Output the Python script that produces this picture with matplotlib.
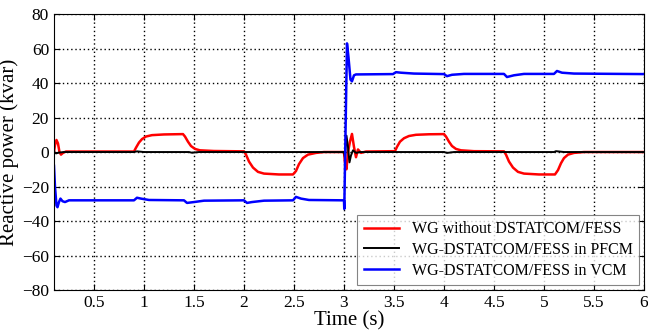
import matplotlib.pyplot as plt

plt.rcParams['font.family'] = ['Liberation Serif', 'DejaVu Serif']

# WG without DSTATCOM/FESS
t_red = [0.10, 0.11, 0.125, 0.14, 0.155, 0.17, 0.19, 0.22, 0.50, 0.90,
         0.92, 0.95, 0.98, 1.02, 1.08, 1.20, 1.39, 1.41, 1.44, 1.47,
         1.51, 1.56, 1.70, 2.00, 2.02, 2.05, 2.09, 2.14, 2.20, 2.35,
         2.49, 2.52, 2.55, 2.59, 2.64, 2.72, 2.80, 3.00, 3.01, 3.025,
         3.04, 3.06, 3.08, 3.10, 3.12, 3.14, 3.17, 3.22, 3.51, 3.53,
         3.56, 3.60, 3.65, 3.72, 3.85, 4.00, 4.02, 4.05, 4.08, 4.12,
         4.17, 4.30, 4.60, 4.62, 4.65, 4.69, 4.74, 4.80, 4.95, 5.11,
         5.14, 5.17, 5.20, 5.24, 5.30, 5.40, 6.00]
q_red = [0.0, 4.0, 7.0, 5.0, 0.0, -1.5, -0.5, 0.3, 0.3, 0.3,
         2.5, 5.5, 7.5, 9.0, 9.8, 10.2, 10.4, 9.0, 6.0, 3.5,
         1.8, 1.0, 0.6, 0.4, -1.5, -5.5, -9.0, -11.5, -12.5, -13.0,
         -13.0, -11.0, -7.0, -3.5, -1.5, -0.5, 0.0, 0.0, -6.0, -10.0,
         0.0, 6.0, 10.5, 3.0, -3.0, 1.5, -0.5, 0.3, 0.5, 3.0,
         6.0, 8.0, 9.3, 10.0, 10.3, 10.4, 9.0, 6.0, 3.5, 1.8,
         1.0, 0.5, 0.4, -1.5, -5.5, -9.0, -11.5, -12.5, -13.0, -13.0,
         -10.5, -6.5, -3.5, -1.5, -0.5, 0.0, 0.0]

# WG-DSTATCOM/FESS in PFCM
t_blk = [0.10, 0.12, 0.15, 0.20, 0.90, 0.93, 1.00, 1.45, 1.48, 1.55,
         3.00, 3.01, 3.025, 3.04, 3.055, 3.07, 3.09, 3.12, 3.16, 4.00,
         4.03, 4.10, 5.10, 5.12, 5.20, 6.00]
q_blk = [0.0, -0.8, -0.3, 0.0, 0.0, 0.4, 0.0, 0.0, -0.4, 0.0,
         0.0, -3.0, 9.5, 3.0, -6.0, -2.0, 1.0, -0.5, 0.0, 0.0,
         -0.5, 0.0, 0.0, 0.5, 0.0, 0.0]

# WG-DSTATCOM/FESS in VCM
t_blu = [0.100, 0.110, 0.125, 0.135, 0.150, 0.165, 0.185, 0.21, 0.25, 0.90,
         0.93, 0.97, 1.05, 1.40, 1.43, 1.50, 1.60, 2.00, 2.03, 2.08,
         2.20, 2.49, 2.52, 2.57, 2.65, 3.00, 3.003, 3.015, 3.03, 3.045,
         3.065, 3.08, 3.10, 3.12, 3.49, 3.52, 3.57, 3.70, 4.00, 4.03,
         4.08, 4.20, 4.60, 4.63, 4.70, 4.80, 5.10, 5.13, 5.18, 5.30,
         6.00]
q_blu = [-8, -20, -31, -32, -29, -27, -28.5, -29, -28, -28,
         -26.5, -27, -27.8, -28, -29.5, -29, -28.2, -28, -29.5, -29,
         -28.2, -28, -26, -27, -27.8, -28, -33, 10, 63, 55,
         42, 41, 44.5, 45, 45.2, 46.3, 46, 45.5, 45.2, 44,
         44.8, 45.3, 45.3, 43.5, 44.5, 45.3, 45.3, 47, 46, 45.5,
         45.2]

xticks = [0.5, 1, 1.5, 2, 2.5, 3, 3.5, 4, 4.5, 5, 5.5, 6]
yticks = [-80, -60, -40, -20, 0, 20, 40, 60, 80]

fig = plt.figure(figsize=(6.48, 3.35), dpi=100)
ax = fig.add_axes([0.0833, 0.1343, 0.9105, 0.8237])

ax.plot(t_red, q_red, color='red', lw=1.8, label='WG without DSTATCOM/FESS')
ax.plot(t_blk, q_blk, color='black', lw=1.4, label='WG-DSTATCOM/FESS in PFCM')
ax.plot(t_blu, q_blu, color='blue', lw=1.8, label='WG-DSTATCOM/FESS in VCM')

ax.set_xlim(0.1, 6)
ax.set_ylim(-80, 80)
ax.set_xticks(xticks)
ax.set_xticklabels(['0.5', '1', '1.5', '2', '2.5', '3', '3.5', '4', '4.5', '5', '5.5', '6'])
ax.set_yticks(yticks)
ax.tick_params(direction='in', top=True, right=True, labelsize=12.5, length=4)
ax.grid(True, color='black', linestyle=(0, (1, 2)), linewidth=1)
ax.set_xlabel('Time (s)', fontsize=15, labelpad=0)
ax.set_ylabel('Reactive power (kvar)', fontsize=15, labelpad=2)

leg = ax.legend(loc='lower right', fontsize=11.5, fancybox=False, edgecolor='0.4',
                handlelength=2.2, borderaxespad=0.3, labelspacing=0.3)
leg.get_frame().set_linewidth(0.8)

fig.savefig('out.png', dpi=100)
